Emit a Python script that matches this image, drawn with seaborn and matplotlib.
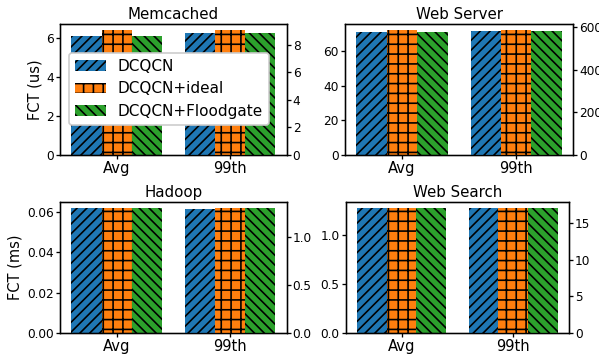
# -*- coding: utf-8 -*-
"""
FCT of DCQCN variants on four workloads (Avg on left axis, 99th on right axis)
"""

### 1. Imports

import pandas as pd
import seaborn as sns
import matplotlib.pyplot as plt
from matplotlib.ticker import MultipleLocator

###############################################################################

### 2. Data

schemes = ['DCQCN', 'DCQCN+ideal', 'DCQCN+Floodgate']
stats = ['Avg', '99th']
titles = ['Memcached', 'Web Server', 'Hadoop', 'Web Search']

# Avg values -> left y axis, 99th values -> right y axis
memcached_avg = [6.10, 6.39, 6.10]
memcached_99 = [8.87, 9.09, 8.87]
webserver_avg = [71.0, 72.3, 71.0]
webserver_99 = [580, 586, 580]
hadoop_avg = [0.0618, 0.0618, 0.0616]
hadoop_99 = [1.287, 1.297, 1.294]
websearch_avg = [1.270, 1.270, 1.265]
websearch_99 = [17.01, 16.95, 16.95]

ylabels = ['FCT (us)', None, 'FCT (ms)', None]
# tick steps (left, right)
tick_steps = [(2, 2), (20, 200), (0.02, 0.5), (0.5, 5)]

colors = ['#1f77b4', '#ff7f0e', '#2ca02c']
hatches = ['////', '++', '\\\\\\\\']

###############################################################################

### 3. Plot

def to_df(stat, values):
    return pd.DataFrame({'stat': stat, 'scheme': schemes, 'fct': values})


def add_bars(ax, df):
    sns.barplot(data=df, x='stat', y='fct', hue='scheme', order=stats,
                hue_order=schemes, palette=colors, saturation=1,
                errorbar=None, legend=False, ax=ax)
    for cont, h in zip(ax.containers, hatches):
        for bar in cont.patches:
            bar.set_hatch(h)
            bar.set_edgecolor('black')
            bar.set_linewidth(0)
    ax.set_xlabel('')
    ax.set_ylabel('')


def draw_panel(ax, title, avg, p99, steps, legend=False):
    add_bars(ax, to_df('Avg', avg))
    ax2 = ax.twinx()
    add_bars(ax2, to_df('99th', p99))
    ax.set_xlim(-0.5, 1.5)

    ax.yaxis.set_major_locator(MultipleLocator(steps[0]))
    ax2.yaxis.set_major_locator(MultipleLocator(steps[1]))

    ax.set_title(title, fontsize=9.2, pad=3)
    ax.tick_params(axis='x', labelsize=9, length=2.5, pad=1.2)
    ax.tick_params(axis='y', labelsize=7.4, length=2.7, pad=1)
    ax2.tick_params(axis='y', labelsize=7.4, length=2.7, pad=1)

    if legend:
        ax2.legend(handles=ax.containers, labels=schemes, fontsize=9.3,
                   loc='lower left', bbox_to_anchor=(0.04, 0.228),
                   borderaxespad=0, framealpha=1)
    return ax2


fig = plt.figure(figsize=(599 / 118, 356 / 118), dpi=118)

positions = [
    [0.1002, 0.5646, 0.3784, 0.3688],
    [0.5760, 0.5646, 0.3810, 0.3688],
    [0.1002, 0.0638, 0.3784, 0.3696],
    [0.5771, 0.0638, 0.3729, 0.3696],
]
avgs = [memcached_avg, webserver_avg, hadoop_avg, websearch_avg]
p99s = [memcached_99, webserver_99, hadoop_99, websearch_99]
label_x = {0: -0.079, 2: -0.165}

for i in range(4):
    ax = fig.add_axes(positions[i])
    draw_panel(ax, titles[i], avgs[i], p99s[i], tick_steps[i], legend=(i == 0))
    if ylabels[i]:
        ax.set_ylabel(ylabels[i], fontsize=8.9)
        ax.yaxis.set_label_coords(label_x[i], 0.5)

plt.savefig('out.png', dpi=118)
